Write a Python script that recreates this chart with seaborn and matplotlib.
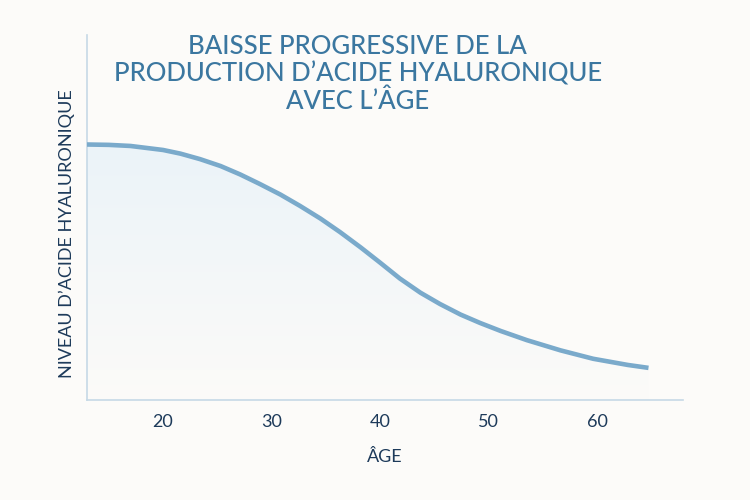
import numpy as np
import pandas as pd
import seaborn as sns
import matplotlib.pyplot as plt
from matplotlib.colors import LinearSegmentedColormap

# values (arbitrary 0-100 level scale)
ages = [13, 15, 17, 20, 21.6, 23.4, 25.3, 27.1, 28.9, 30.8, 32.6, 34.5, 36.3, 38.2, 40,
        41.8, 43.7, 45.5, 47.4, 49.2, 51.1, 53.5, 56.6, 59.6, 62.8, 64.7]
levels = [70.0, 69.9, 69.6, 68.5, 67.5, 66.0, 64.1, 61.8, 59.2, 56.3, 53.2, 49.7, 46.0,
          41.8, 37.6, 33.3, 29.4, 26.3, 23.4, 21.1, 18.9, 16.4, 13.6, 11.3, 9.6, 8.8]
xticks = [20, 30, 40, 50, 60]

title = "BAISSE PROGRESSIVE DE LA\nPRODUCTION D\u2019ACIDE HYALURONIQUE\nAVEC L\u2019\u00c2GE"
xlabel = "\u00c2GE"
ylabel = "NIVEAU D\u2019ACIDE HYALURONIQUE"

bg = "#fcfbf9"
line_col = "#7aaacb"
title_col = "#3b77a0"
text_col = "#1d3a5a"
axis_col = "#c6d9e6"

sns.set_theme(style="white")
plt.rcParams['font.family'] = ['Lato', 'DejaVu Sans']

df = pd.DataFrame({"age": ages, "level": levels})

fig = plt.figure(figsize=(7.5, 5), dpi=100, facecolor=bg)
ax = fig.add_axes([0.116, 0.2, 0.795, 0.73])
ax.set_facecolor(bg)

# gradient fill under the curve
poly = ax.fill_between(df["age"], df["level"], 0, color="none")
cmap = LinearSegmentedColormap.from_list("fade", [bg, "#ebf3f8"])
grad = np.linspace(0, 1, 256).reshape(-1, 1)
im = ax.imshow(grad, cmap=cmap, aspect="auto", origin="lower",
               extent=[ages[0], ages[-1], 0, max(levels)], zorder=1)
im.set_clip_path(poly.get_paths()[0], transform=ax.transData)

sns.lineplot(data=df, x="age", y="level", ax=ax, color=line_col, linewidth=3.3,
             solid_capstyle="butt", solid_joinstyle="round", zorder=3)

ax.set_xlim(13, 67.9)
ax.set_ylim(0, 100)
ax.set_xticks(xticks)
ax.set_xticklabels([str(t) for t in xticks], fontsize=13, color=text_col)
ax.set_yticks([])
ax.tick_params(axis="x", length=0, pad=10)
for s in ["top", "right"]:
    ax.spines[s].set_visible(False)
for s in ["left", "bottom"]:
    ax.spines[s].set_color(axis_col)
    ax.spines[s].set_linewidth(1.2)

ax.set_xlabel(xlabel, fontsize=13, color=text_col, labelpad=14)
ax.set_ylabel(ylabel, fontsize=13, color=text_col)
ax.yaxis.set_label_coords(-0.02, 0.455)

fig.text(0.477, 0.932, title, ha="center", va="top", fontsize=18.5, color=title_col,
         linespacing=1.12, fontweight="medium")

fig.savefig("out.png", dpi=100, facecolor=bg)
